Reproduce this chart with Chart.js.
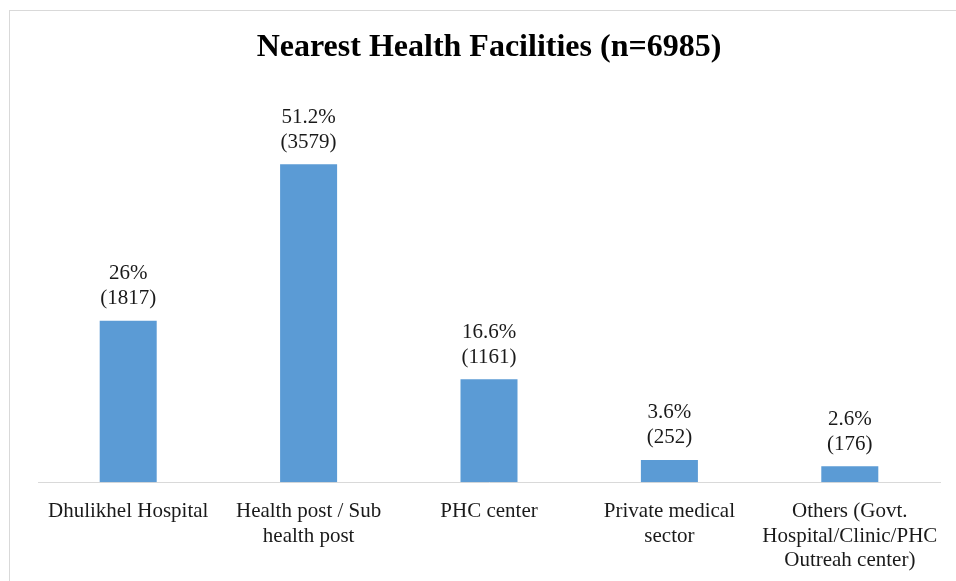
<!DOCTYPE html>
<html>
<head>
<meta charset="utf-8">
<script src="https://cdn.jsdelivr.net/npm/chart.js@4.4.1/dist/chart.umd.min.js"></script>
<style>
    html, body { margin: 0; padding: 0; background: #fff; }
    #wrap { position: relative; width: 956px; height: 581px; }
</style>
</head>
<body>
<div id="wrap"><canvas id="facilities-chart"></canvas></div>
<script>
// --- Dados ---
const categories = [
    ['Dhulikhel Hospital'],
    ['Health post / Sub', 'health post'],
    ['PHC center'],
    ['Private medical', 'sector'],
    ['Others (Govt.', 'Hospital/Clinic/PHC', 'Outreah center)']
];
const percentages = [26, 51.2, 16.6, 3.6, 2.6];
const counts = [1817, 3579, 1161, 252, 176];
const percentLabels = ['26%', '51.2%', '16.6%', '3.6%', '2.6%'];

const serif = '"Liberation Serif", "Times New Roman", serif';

// Borda da área do gráfico (como no Excel)
const frameBorder = {
    id: 'frameBorder',
    beforeDraw(chart) {
        const ctx = chart.ctx;
        ctx.save();
        ctx.strokeStyle = '#d9d9d9';
        ctx.lineWidth = 1;
        ctx.strokeRect(9.5, 10.5, 1000, 1000);
        ctx.restore();
    }
};

// Rótulos de dados em duas linhas acima de cada barra
const barLabels = {
    id: 'barLabels',
    afterDatasetsDraw(chart) {
        const ctx = chart.ctx;
        const meta = chart.getDatasetMeta(0);
        ctx.save();
        ctx.font = '21px ' + serif;
        ctx.fillStyle = '#1a1a1a';
        ctx.textAlign = 'center';
        ctx.textBaseline = 'middle';
        meta.data.forEach((bar, i) => {
            ctx.fillText(`(${counts[i]})`, bar.x, bar.y - 22);
            ctx.fillText(percentLabels[i], bar.x, bar.y - 47);
        });
        ctx.restore();
    }
};

new Chart(document.getElementById('facilities-chart'), {
    type: 'bar',
    data: {
        labels: categories,
        datasets: [{
            data: percentages,
            backgroundColor: '#5b9bd5',
            borderWidth: 0,
            categoryPercentage: 1,
            barPercentage: 0.316
        }]
    },
    options: {
        responsive: true,
        maintainAspectRatio: false,
        animation: false,
        layout: { padding: { left: 38, right: 16, top: 0, bottom: -9 } },
        plugins: {
            legend: { display: false },
            tooltip: { enabled: false },
            title: {
                display: true,
                text: 'Nearest Health Facilities (n=6985)',
                color: '#000',
                font: { family: serif, size: 32, weight: 'bold', lineHeight: 1.2 },
                padding: { top: 29, bottom: 44 }
            }
        },
        scales: {
            y: { display: false, min: 0, max: 59.7 },
            x: {
                grid: { display: false, drawTicks: false },
                border: { color: '#d9d9d9', width: 1 },
                ticks: {
                    color: '#1a1a1a',
                    font: { family: serif, size: 21, lineHeight: 1.17 },
                    padding: 17,
                    maxRotation: 0,
                    autoSkip: false
                }
            }
        }
    },
    plugins: [frameBorder, barLabels]
});
</script>
</body>
</html>
